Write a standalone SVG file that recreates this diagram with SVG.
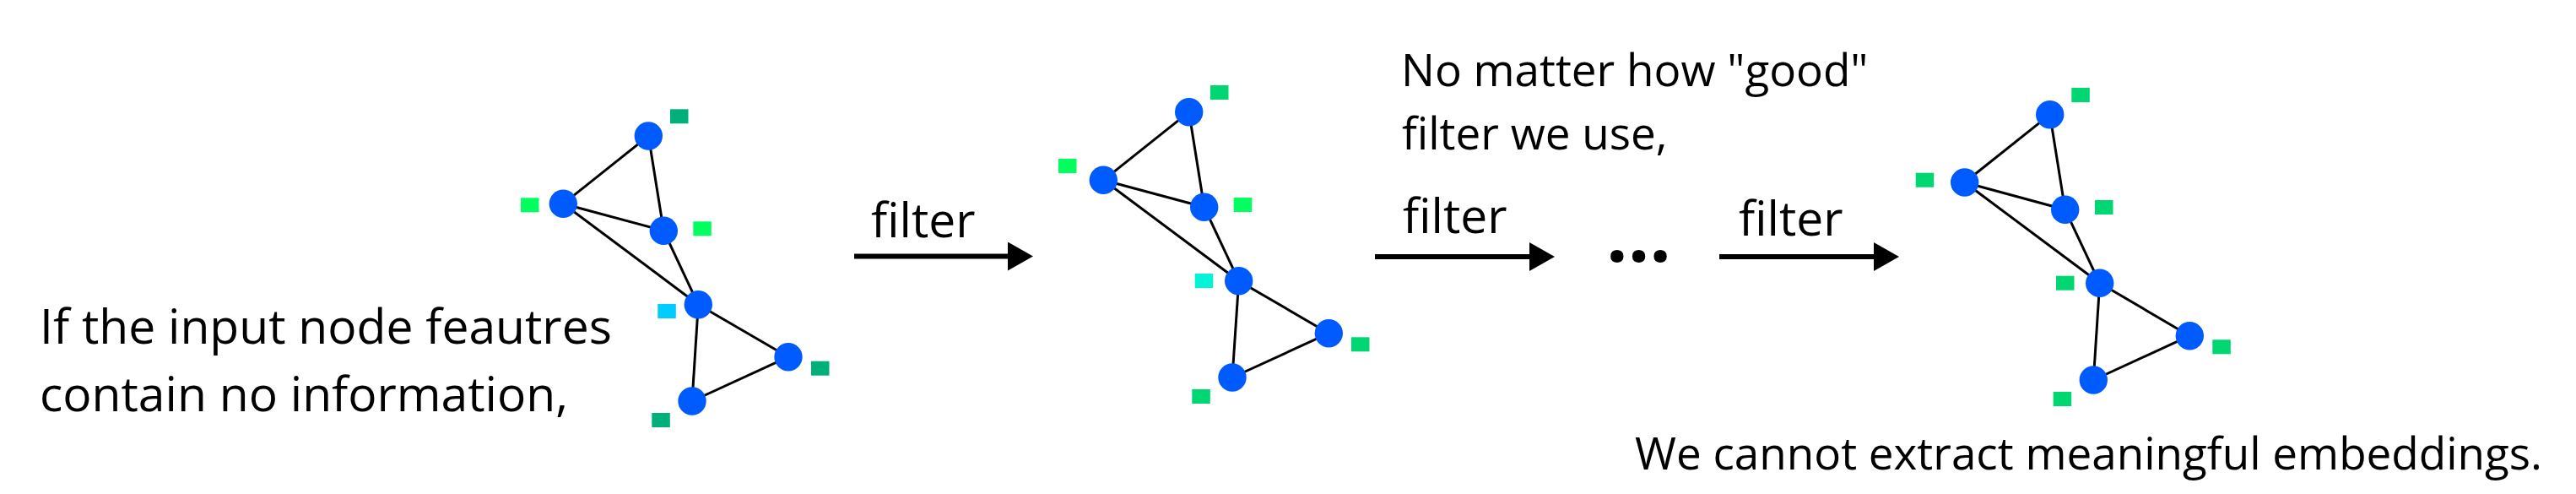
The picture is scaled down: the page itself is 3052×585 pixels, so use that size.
<svg xmlns="http://www.w3.org/2000/svg" width="3052" height="585" viewBox="0 0 3052 585">
<style>
  .bg { fill: #ffffff; }
  .node { fill: #005BFF; }
  .edge { stroke: #000000; stroke-width: 3; fill: none; }
  .arrow { stroke: #000000; stroke-width: 6; fill: none; marker-end: url(#head); }
  .txt { font-family: "Open Sans", "Noto Sans", "Liberation Sans", sans-serif; fill: #000000; }
  .t57 { font-size: 57px; }
  .t53 { font-size: 53px; }
  .dots { font-family: "Open Sans", "Noto Sans", sans-serif; font-weight: bold; font-size: 90px; fill: #000000; }
  .teal { fill: #00B07A; }
  .lime { fill: #00FF5F; }
  .cyan { fill: #00CCFF; }
  .aqua { fill: #00F5D6; }
  .mid { fill: #00D672; }
</style>
<defs>
  <marker id="head" markerUnits="userSpaceOnUse" markerWidth="30" markerHeight="34" refX="1" refY="17" orient="auto" viewBox="0 0 30 34">
    <path d="M0,0 L30,17 L0,34 Z" fill="#000000"/>
  </marker>
</defs>
<rect class="bg" x="0" y="0" width="3052" height="585"/>

<g id="connectors">
  <!-- graph 1 edges -->
  <line class="edge" x1="768.3" y1="161" x2="667.3" y2="241.3"/>
  <line class="edge" x1="768.3" y1="161" x2="786.3" y2="273.3"/>
  <line class="edge" x1="667.3" y1="241.3" x2="786.3" y2="273.3"/>
  <line class="edge" x1="667.3" y1="241.3" x2="827.3" y2="360.7"/>
  <line class="edge" x1="786.3" y1="273.3" x2="827.3" y2="360.7"/>
  <line class="edge" x1="827.3" y1="360.7" x2="934" y2="422.7"/>
  <line class="edge" x1="827.3" y1="360.7" x2="820" y2="475"/>
  <line class="edge" x1="934" y1="422.7" x2="820" y2="475"/>
  <!-- graph 2 edges -->
  <line class="edge" x1="1408.7" y1="132.7" x2="1307.3" y2="213.3"/>
  <line class="edge" x1="1408.7" y1="132.7" x2="1426.7" y2="245.3"/>
  <line class="edge" x1="1307.3" y1="213.3" x2="1426.7" y2="245.3"/>
  <line class="edge" x1="1307.3" y1="213.3" x2="1467.7" y2="332.7"/>
  <line class="edge" x1="1426.7" y1="245.3" x2="1467.7" y2="332.7"/>
  <line class="edge" x1="1467.7" y1="332.7" x2="1574.3" y2="394.7"/>
  <line class="edge" x1="1467.7" y1="332.7" x2="1460" y2="447"/>
  <line class="edge" x1="1574.3" y1="394.7" x2="1460" y2="447"/>
  <!-- graph 3 edges -->
  <line class="edge" x1="2428.7" y1="135.7" x2="2327.7" y2="216"/>
  <line class="edge" x1="2428.7" y1="135.7" x2="2446.7" y2="248.3"/>
  <line class="edge" x1="2327.7" y1="216" x2="2446.7" y2="248.3"/>
  <line class="edge" x1="2327.7" y1="216" x2="2487.7" y2="335.3"/>
  <line class="edge" x1="2446.7" y1="248.3" x2="2487.7" y2="335.3"/>
  <line class="edge" x1="2487.7" y1="335.3" x2="2594.3" y2="397.7"/>
  <line class="edge" x1="2487.7" y1="335.3" x2="2480.3" y2="450"/>
  <line class="edge" x1="2594.3" y1="397.7" x2="2480.3" y2="450"/>
  <!-- filter arrows -->
  <line class="arrow" x1="1012" y1="303.5" x2="1195" y2="303.5"/>
  <line class="arrow" x1="1629" y1="304" x2="1813" y2="304"/>
  <line class="arrow" x1="2037" y1="304" x2="2221" y2="304"/>
</g>

<g id="graph1">
  <g id="g1-a"><circle class="node" cx="768.3" cy="161" r="16.7"/><rect class="teal" x="794" y="129.3" width="21.5" height="17"/></g>
  <g id="g1-b"><circle class="node" cx="667.3" cy="241.3" r="16.7"/><rect class="lime" x="617" y="234.3" width="21.5" height="17"/></g>
  <g id="g1-c"><circle class="node" cx="786.3" cy="273.3" r="16.7"/><rect class="lime" x="821.3" y="262.3" width="21.5" height="17"/></g>
  <g id="g1-d"><circle class="node" cx="827.3" cy="360.7" r="16.7"/><rect class="cyan" x="779.3" y="360" width="21.5" height="17"/></g>
  <g id="g1-e"><circle class="node" cx="934" cy="422.7" r="16.7"/><rect class="teal" x="961" y="427.7" width="21.5" height="17"/></g>
  <g id="g1-f"><circle class="node" cx="820" cy="475" r="16.7"/><rect class="teal" x="772.3" y="489" width="21.5" height="17"/></g>
</g>

<g id="graph2">
  <g id="g2-a"><circle class="node" cx="1408.7" cy="132.7" r="16.7"/><rect class="mid" x="1434" y="101" width="21.5" height="17"/></g>
  <g id="g2-b"><circle class="node" cx="1307.3" cy="213.3" r="16.7"/><rect class="lime" x="1254" y="188" width="21.5" height="17"/></g>
  <g id="g2-c"><circle class="node" cx="1426.7" cy="245.3" r="16.7"/><rect class="lime" x="1461.7" y="234" width="21.5" height="17"/></g>
  <g id="g2-d"><circle class="node" cx="1467.7" cy="332.7" r="16.7"/><rect class="aqua" x="1415.7" y="324" width="21.5" height="17"/></g>
  <g id="g2-e"><circle class="node" cx="1574.3" cy="394.7" r="16.7"/><rect class="mid" x="1601" y="399.3" width="21.5" height="17"/></g>
  <g id="g2-f"><circle class="node" cx="1460" cy="447" r="16.7"/><rect class="mid" x="1412.3" y="461" width="21.5" height="17"/></g>
</g>

<g id="graph3">
  <g id="g3-a"><circle class="node" cx="2428.7" cy="135.7" r="16.7"/><rect class="mid" x="2454.3" y="104" width="21.5" height="17"/></g>
  <g id="g3-b"><circle class="node" cx="2327.7" cy="216" r="16.7"/><rect class="mid" x="2269.7" y="204.7" width="21.5" height="17"/></g>
  <g id="g3-c"><circle class="node" cx="2446.7" cy="248.3" r="16.7"/><rect class="mid" x="2482" y="237" width="21.5" height="17"/></g>
  <g id="g3-d"><circle class="node" cx="2487.7" cy="335.3" r="16.7"/><rect class="mid" x="2436" y="326.7" width="21.5" height="17"/></g>
  <g id="g3-e"><circle class="node" cx="2594.3" cy="397.7" r="16.7"/><rect class="mid" x="2621.3" y="402.3" width="21.5" height="17"/></g>
  <g id="g3-f"><circle class="node" cx="2480.3" cy="450" r="16.7"/><rect class="mid" x="2432.7" y="464" width="21.5" height="17"/></g>
</g>

<g id="label-input">
  <text class="txt t57" x="47" y="406.7">If the input node feautres</text>
  <text class="txt t57" x="47" y="486.7">contain no information,</text>
</g>
<g id="label-filter1"><text class="txt t57" x="1032" y="281">filter</text></g>
<g id="label-filter2"><text class="txt t57" x="1662" y="276">filter</text></g>
<g id="label-filter3"><text class="txt t57" x="2060" y="279">filter</text></g>
<g id="label-dots"><text class="dots" x="1903" y="310">...</text></g>
<g id="label-nomatter">
  <text class="txt t53" x="1660" y="101.7">No matter how "good"</text>
  <text class="txt t53" x="1661" y="176.7">filter we use,</text>
</g>
<g id="label-result"><text class="txt t53" x="1937" y="555.7">We cannot extract meaningful embeddings.</text></g>
</svg>
